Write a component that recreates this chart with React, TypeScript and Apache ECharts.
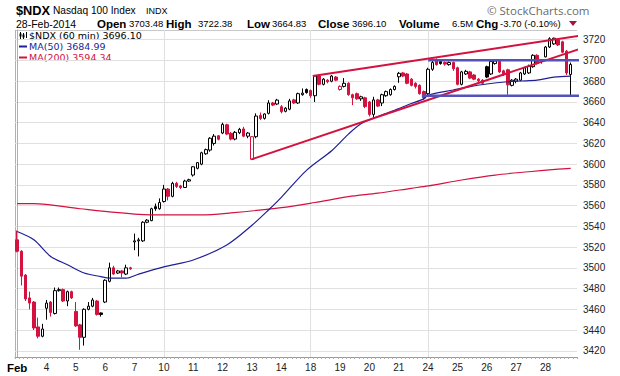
import React, { useEffect, useRef } from "react";
import * as echarts from "echarts";

// ---- labels ----
const dayLabels = ["Feb", "4", "5", "6", "7", "10", "11", "12", "13", "14", "18", "19", "20", "21", "24", "25", "26", "27", "28"];
const yTicks = [3420, 3440, 3460, 3480, 3500, 3520, 3540, 3560, 3580, 3600, 3620, 3640, 3660, 3680, 3700, 3720];
const weekStarts = [35, 70, 98];

// ---- hourly candles per day: [open, high, low, close] ----
const feb03 = [
  [3527, 3536, 3515, 3516], [3516, 3517, 3483, 3492], [3493, 3494, 3468, 3470], [3471, 3477, 3460, 3466],
  [3467, 3468, 3440, 3442], [3443, 3452, 3432, 3434], [3434, 3446, 3433, 3441],
];
const feb04 = [
  [3461, 3469, 3450, 3466], [3467, 3468, 3453, 3457], [3456, 3481, 3455, 3478], [3478, 3481, 3477, 3479],
  [3479, 3480, 3467, 3468], [3468, 3478, 3463, 3477], [3477, 3478, 3470, 3471],
];
const feb05 = [
  [3458, 3467, 3443, 3444], [3445, 3446, 3421, 3433], [3433, 3461, 3425, 3460], [3460, 3467, 3459, 3463],
  [3463, 3471, 3462, 3469], [3468, 3469, 3454, 3455], [3456.5, 3457, 3453, 3455],
];
const feb06 = [
  [3467, 3489, 3466, 3488], [3487, 3505, 3486, 3500], [3500, 3502, 3493, 3494], [3495, 3498, 3494, 3497],
  [3497, 3498, 3491, 3495], [3494, 3503, 3493, 3500], [3500, 3501, 3498, 3499],
];
const feb07 = [
  [3525, 3533, 3517, 3526], [3526, 3529, 3511, 3527], [3526, 3545, 3525, 3544], [3544, 3547, 3543, 3546],
  [3545.5, 3558, 3545, 3557], [3559, 3562, 3555, 3557], [3557, 3567, 3556, 3563],
];
const feb10 = [
  [3564, 3580, 3563, 3576], [3576, 3577, 3565, 3569], [3569, 3583, 3568, 3581.5], [3581.5, 3583, 3577, 3578.5],
  [3579, 3580, 3576, 3577.5], [3577.5, 3585, 3577, 3583.7], [3583.7, 3586, 3583, 3585],
];
const feb11 = [
  [3589.5, 3598, 3588, 3597.5], [3596, 3602, 3595, 3601.5], [3600, 3612, 3599, 3611], [3610, 3615, 3609, 3614],
  [3613.6, 3626, 3612, 3625], [3620, 3629, 3618, 3627], [3627.4, 3628, 3623, 3624],
];
const feb12 = [
  [3630, 3640, 3629, 3638.4], [3638, 3639, 3628, 3629], [3629.7, 3631, 3623, 3624.2], [3624.2, 3632, 3623, 3630.7],
  [3630.3, 3635, 3629, 3633.6], [3634, 3636, 3626, 3627], [3627, 3631, 3625, 3630],
];
const feb13 = [
  [3604.6, 3627, 3604, 3626.5], [3626.5, 3649, 3625, 3646.4], [3647, 3649.8, 3642.5, 3644], [3644.2, 3649, 3643, 3648.4],
  [3649, 3661.7, 3648, 3659], [3659, 3660, 3656, 3657], [3658, 3663, 3657, 3661.8],
];
const feb14 = [
  [3655.4, 3657, 3649, 3650.6], [3651, 3655, 3650, 3654], [3653, 3663, 3652, 3661], [3662, 3663, 3658, 3659],
  [3659, 3669, 3658, 3668], [3667, 3673, 3666, 3668.5], [3672, 3673, 3668, 3669],
];
const feb18 = [
  [3671, 3672, 3664, 3666], [3666, 3686, 3660, 3685], [3685, 3686, 3676, 3677], [3677, 3683, 3676, 3682],
  [3681, 3682, 3678, 3679.5], [3680, 3686, 3679, 3685], [3684, 3685, 3680, 3681],
];
const feb19 = [
  [3672, 3676, 3671, 3675], [3675, 3683, 3674, 3678], [3678, 3679, 3666, 3667], [3667, 3668, 3657, 3664],
  [3668, 3669, 3662, 3663], [3663, 3666, 3661, 3665], [3664, 3665, 3654, 3655.5],
];
const feb20 = [
  [3660, 3661, 3646, 3648], [3648, 3665, 3645, 3662], [3662, 3663, 3655, 3656], [3659, 3668, 3656, 3667],
  [3666, 3671, 3665, 3670], [3667, 3673, 3666, 3672], [3672, 3676, 3671, 3675],
];
const feb21 = [
  [3684.3, 3689, 3678.5, 3687.6], [3688, 3689, 3684, 3685], [3687, 3688, 3677, 3678], [3682, 3683, 3675, 3676],
  [3678, 3679, 3673, 3675], [3676, 3677, 3667, 3668], [3670, 3671, 3662, 3664],
];
const feb24 = [
  [3668, 3693, 3666, 3691.5], [3691.5, 3700, 3690, 3698], [3701, 3702, 3695, 3696], [3699, 3700, 3696, 3697],
  [3698, 3699, 3695, 3696.5], [3696, 3699, 3695, 3698], [3698, 3699, 3690, 3692],
];
const feb25 = [
  [3693, 3694, 3676, 3677], [3677, 3690, 3676, 3689], [3687, 3691, 3686, 3689.5], [3689, 3690, 3682, 3683],
  [3686, 3687, 3681, 3682], [3682, 3683, 3679, 3680.5], [3681, 3682, 3677, 3678],
];
const feb26 = [
  [3694, 3695, 3683, 3684], [3687, 3700, 3686, 3699], [3697, 3701, 3696, 3699.5], [3699, 3700, 3688, 3689],
  [3690, 3691, 3685, 3687], [3691, 3692, 3667, 3676.5], [3676, 3682, 3675, 3681],
];
const feb27 = [
  [3680, 3683, 3678, 3682], [3681, 3689, 3680, 3688], [3687, 3694, 3686, 3693], [3688, 3696, 3687, 3694.5],
  [3694, 3706, 3693, 3705], [3705, 3706, 3696, 3697], [3700, 3701, 3697, 3699],
];
const feb28 = [
  [3703.5, 3714, 3703, 3713], [3713, 3722.4, 3712, 3721], [3716, 3722, 3715, 3721.5], [3720, 3721, 3714, 3715],
  [3718, 3719, 3707, 3708], [3709, 3710, 3686, 3688], [3686.5, 3698, 3664.8, 3696.1],
];
const days = [feb03, feb04, feb05, feb06, feb07, feb10, feb11, feb12, feb13, feb14, feb18, feb19, feb20, feb21, feb24, feb25, feb26, feb27, feb28];

// ---- moving averages: [bar index, value] ----
const ma50 = [
  [0, 3535], [4, 3527], [8, 3511], [12, 3503], [16, 3495], [20, 3491.5], [22, 3490], [26, 3490], [29, 3494],
  [35, 3501], [42, 3507.6], [50, 3522], [56, 3541], [60, 3556], [63, 3568], [69, 3594], [75, 3613], [79, 3629],
  [82, 3639], [86, 3646], [90, 3652], [94, 3658.5], [97, 3663], [98, 3666.5], [104, 3671.5], [108, 3674.7],
  [112, 3677.3], [117, 3679.5], [120, 3680.2], [124, 3681], [128, 3684], [132, 3685],
];
const ma200 = [
  [0, 3562], [4, 3562], [15, 3557], [29, 3551.6], [36, 3551], [44, 3551], [51, 3553], [63, 3558], [71, 3563],
  [79, 3568.6], [86, 3572], [94, 3576.7], [98, 3579], [106, 3584.7], [114, 3589.5], [122, 3592.7], [129, 3595.3], [132, 3596],
];

// ---- annotations: [bar index, value] ----
const upperTrend = [[70.5, 3685], [138.3, 3726.5]];
const lowerTrend = [[55.9, 3604.6], [138.3, 3716.8]];
const resistance = [[98, 3700.2], [139.7, 3700.2]];
const support = [[96.5, 3666], [134.7, 3666]];

const RED = "#d3123f";
const NAVY = "#1f1f96";
const BLUE = "#5252b8";
const FONT = "'Liberation Sans', Arial, sans-serif";
const LEGEND_FONT = "'DejaVu Sans', Verdana, sans-serif";

export default function App() {
  const ref = useRef<HTMLDivElement>(null);

  useEffect(() => {
    if (!ref.current) return;
    const chart = echarts.init(ref.current, undefined, { renderer: "svg" });

    const bars = days.flat();
    const slots = bars.length + 1;
    const categories = [...bars.map((_, i) => `${dayLabels[Math.floor(i / 7)]}-${i % 7}`), "pad"];

    const candleData = bars.map(([o, h, l, c], i) => {
      const prev = i > 0 ? bars[i - 1][3] : o;
      const up = c > o;
      const upPrev = i === 0 ? up : c >= prev;
      const col = upPrev ? "#000000" : RED;
      const fill = up ? "#ffffff" : col;
      return {
        value: [o, c, l, h],
        itemStyle: { color: fill, color0: fill, borderColor: col, borderColor0: col, borderWidth: 1 },
      };
    });

    const overlay = (data: number[][], color: string, width: number) => ({
      type: "line",
      xAxisIndex: 1,
      yAxisIndex: 0,
      data,
      symbol: "none",
      clip: false,
      silent: true,
      z: 4,
      lineStyle: { color, width },
    });

    const t = (text: string, x: number, y: number, style: any) => ({
      type: "text",
      x,
      y,
      style: { text, fontFamily: FONT, fill: "#000", verticalAlign: "middle", ...style },
    });

    const bold = { fontWeight: "bold", fontSize: 11.5 };
    const num = { fontSize: 9.5 };

    chart.setOption({
      animation: false,
      backgroundColor: "#ffffff",
      grid: { left: 15, top: 30, width: 562, height: 327, containLabel: false, outerBoundsMode: "none" },
      xAxis: [
        {
          type: "category",
          data: categories,
          boundaryGap: true,
          axisLine: { lineStyle: { color: "#999999", width: 1 } },
          axisTick: { show: true, interval: 0, length: 2, lineStyle: { color: "#aaaaaa" } },
          axisLabel: {
            interval: (i: number) => i % 7 === 0 && i < bars.length,
            formatter: (_v: string, i: number) => (i === 0 ? `{b|${dayLabels[0]}}` : dayLabels[i / 7] ?? ""),
            margin: 5,
            fontSize: 10,
            color: "#222222",
            fontFamily: FONT,
            rich: { b: { fontWeight: "bold", fontSize: 11.5, color: "#000", fontFamily: FONT } },
          },
          splitLine: { show: false },
        },
        {
          type: "value",
          min: -0.5,
          max: slots - 0.5,
          show: true,
          position: "top",
          axisLine: { show: false },
          axisTick: { show: false, customValues: weekStarts },
          axisLabel: { show: false, customValues: weekStarts },
          splitLine: { show: true, lineStyle: { color: "#e0e0e0", width: 1 } },
        },
      ],
      yAxis: {
        type: "value",
        position: "right",
        min: 3414,
        max: 3729.4,
        axisLine: { show: true, lineStyle: { color: "#aaaaaa", type: "dotted" } },
        axisTick: { show: false, customValues: yTicks },
        axisLabel: {
          customValues: yTicks,
          formatter: (v: number) => String(v),
          margin: 6,
          fontSize: 10,
          color: "#222222",
          fontFamily: FONT,
        },
        splitLine: { show: true, lineStyle: { color: "#e0e0e0", width: 1 } },
      },
      series: [
        {
          type: "candlestick",
          xAxisIndex: 0,
          yAxisIndex: 0,
          data: candleData,
          barWidth: 3,
          z: 2,
          silent: true,
        },
        { ...overlay(ma200, RED, 1.2), clip: true, smooth: 0.3, z: 3 },
        { ...overlay(ma50, NAVY, 1.2), clip: true, smooth: 0.3, z: 3 },
        overlay(upperTrend, RED, 2),
        overlay(lowerTrend, RED, 2),
        overlay(resistance, BLUE, 2.5),
        overlay(support, BLUE, 2.5),
      ],
      graphic: [
        // plot frame
        { type: "line", shape: { x1: 15, y1: 30.5, x2: 577, y2: 30.5 }, style: { stroke: "#c8c8c8", lineWidth: 1 } },
        { type: "line", shape: { x1: 15.5, y1: 30, x2: 15.5, y2: 357 }, style: { stroke: "#b0b0b0", lineWidth: 1 } },
        { type: "line", shape: { x1: 17.5, y1: 30, x2: 17.5, y2: 357 }, style: { stroke: "#c8c8c8", lineWidth: 1 } },
        // title
        t("$NDX", 16, 10, { fontWeight: "bold", fontSize: 12.8 }),
        t("Nasdaq 100 Index", 53, 10.5, { fontSize: 10.2 }),
        t("INDX", 146, 10.5, { fontSize: 9 }),
        t("© StockCharts.com", 487, 10, { fontSize: 11.5, fill: "#6a6a6a", fontFamily: "'Open Sans', 'DejaVu Sans', sans-serif" }),
        // info line
        t("28-Feb-2014", 16, 23.5, { fontSize: 10.5 }),
        t("Open", 97, 23.5, bold),
        t("3703.48", 129, 23.5, num),
        t("High", 166, 23.5, bold),
        t("3722.38", 198, 23.5, num),
        t("Low", 247, 23.5, bold),
        t("3664.83", 272, 23.5, num),
        t("Close", 318, 23.5, bold),
        t("3696.10", 352, 23.5, num),
        t("Volume", 399, 23.5, bold),
        t("6.5M", 452, 23.5, num),
        t("Chg", 476, 23.5, bold),
        t("-3.70 (-0.10%)", 500, 23.5, num),
        { type: "polygon", shape: { points: [[569, 21], [577, 21], [573, 26]] }, style: { fill: "#a3153d" } },
        // legend
        { type: "line", shape: { x1: 20.5, y1: 32, x2: 20.5, y2: 39 }, style: { stroke: "#000", lineWidth: 1 } },
        { type: "rect", shape: { x: 19.5, y: 33.5, width: 2, height: 3 }, style: { fill: "#000" } },
        { type: "line", shape: { x1: 23.5, y1: 33, x2: 23.5, y2: 39 }, style: { stroke: "#000", lineWidth: 1 } },
        { type: "rect", shape: { x: 22.5, y: 34.5, width: 2, height: 3 }, style: { fill: "#000" } },
        { type: "line", shape: { x1: 26.5, y1: 32, x2: 26.5, y2: 38 }, style: { stroke: "#000", lineWidth: 1 } },
        t("$NDX (60 min) 3696.10", 29, 35.5, { fontSize: 9.5, fontFamily: LEGEND_FONT }),
        { type: "line", shape: { x1: 19, y1: 46.5, x2: 27, y2: 46.5 }, style: { stroke: NAVY, lineWidth: 2 } },
        t("MA(50) 3684.99", 29, 46.5, { fontSize: 9.5, fill: NAVY, fontFamily: LEGEND_FONT }),
        { type: "line", shape: { x1: 19, y1: 57.5, x2: 27, y2: 57.5 }, style: { stroke: RED, lineWidth: 2 } },
        t("MA(200) 3594.34", 29, 57.5, { fontSize: 9.5, fill: RED, fontFamily: LEGEND_FONT }),
      ],
    });

    return () => chart.dispose();
  }, []);

  return <div ref={ref} style={{ position: "absolute", left: 0, top: 0, width: 620, height: 376 }} />;
}
